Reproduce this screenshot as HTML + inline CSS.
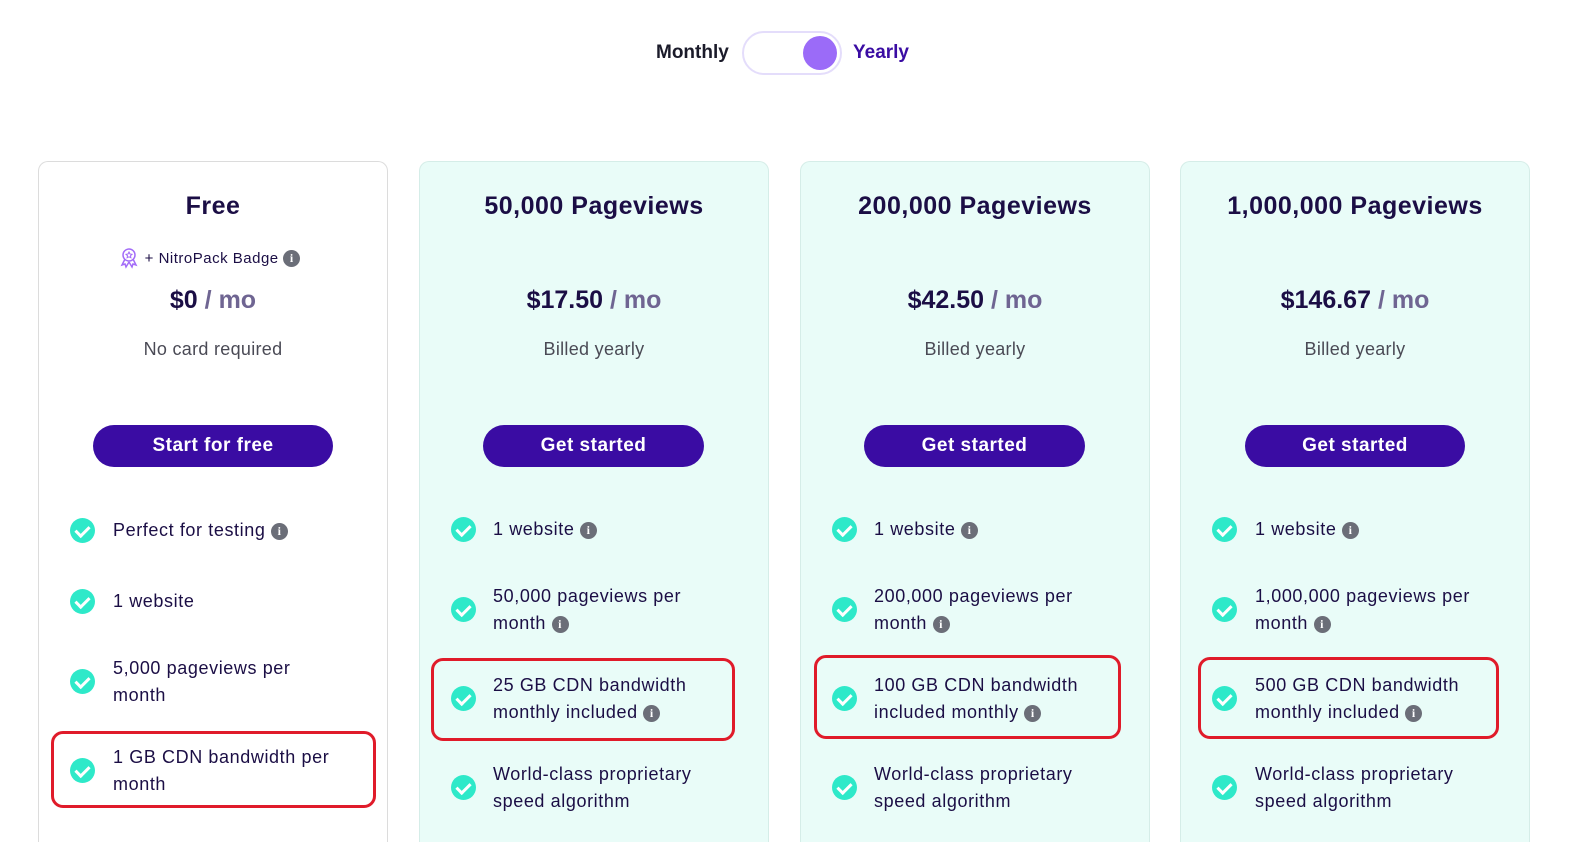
<!DOCTYPE html>
<html style="width:1587px;height:842px;overflow:hidden"><head><meta charset="utf-8"><style>
*{margin:0;padding:0;box-sizing:border-box}
body{width:1587px;height:842px;background:#fff;position:relative;overflow:hidden;font-family:"Liberation Sans",sans-serif;color:#1b0e45}
#wrap{position:absolute;left:0;top:0;width:1587px;height:842px;overflow:hidden}
.a{position:absolute;white-space:nowrap}
.card{position:absolute;top:161px;width:350px;height:681px;border:1px solid #dcdcdc;border-bottom:none;border-radius:10px 10px 0 0;background:#fff}
.paid{background:#e9fcf8;border-color:#d5ede8}
.title{position:absolute;top:192px;width:350px;text-align:center;font-size:25px;font-weight:bold;letter-spacing:0.5px}
.price{position:absolute;top:286px;width:350px;text-align:center;font-size:25px;font-weight:bold}
.price span{color:#6f6592}
.sub{position:absolute;top:339px;width:350px;text-align:center;font-size:18px;color:#4a4a55;letter-spacing:0.3px}
.btn{position:absolute;height:42px;border-radius:21px;background:#3a0ca3;color:#fff;font-size:19px;font-weight:bold;text-align:center;line-height:42px;letter-spacing:0.5px}
.chk{position:absolute;width:25px;height:25px;border-radius:50%;background:#2ee9c9}
.chk:after{content:"";position:absolute;left:8px;top:5px;width:6px;height:11px;border:solid #fff;border-width:0 3px 3px 0;transform:rotate(45deg)}
.ft{position:absolute;font-size:18px;line-height:27px;letter-spacing:0.6px;white-space:nowrap}
.i{display:inline-block;width:17px;height:17px;border-radius:50%;background:#6b6e78;color:#fff;font-size:12px;font-weight:bold;text-align:center;line-height:17px;vertical-align:1px;font-family:"Liberation Serif",serif}
.red{position:absolute;border:3px solid #e01b2a;border-radius:12px}
</style></head><body><div id="wrap">
<div class="a" style="left:656px;top:42px;font-size:19px;font-weight:bold;color:#1b1b2a">Monthly</div>
<div class="a" style="left:742px;top:31px;width:100px;height:44px;border:2px solid #e4ddfb;border-radius:22px;background:#fff"><div style="position:absolute;left:59px;top:3px;width:34px;height:34px;border-radius:50%;background:#9b6bf8"></div></div>
<div class="a" style="left:853px;top:42px;font-size:19px;font-weight:bold;color:#3a0ca3">Yearly</div>

<div class="card" style="left:38px"></div>
<div class="card paid" style="left:419px"></div>
<div class="card paid" style="left:800px"></div>
<div class="card paid" style="left:1180px"></div>

<!-- Free -->
<div class="title" style="left:38px">Free</div>
<div class="a" style="left:118px;top:247px;font-size:15px;letter-spacing:0.5px"><svg width="22" height="22" viewBox="0 0 22 22" style="vertical-align:-6px"><circle cx="11" cy="8" r="6" fill="none" stroke="#a36cf8" stroke-width="1.5"/><path d="M11 5l1 2 2 .3-1.5 1.4.4 2L11 9.8 9.1 10.7l.4-2L8 7.3l2-.3z" fill="none" stroke="#a36cf8" stroke-width="1"/><path d="M7 12l-3 6 3-1 1 3 3-5M15 12l3 6-3-1-1 3-3-5" fill="none" stroke="#a36cf8" stroke-width="1.5"/></svg> + NitroPack Badge <span class="i">i</span></div>
<div class="price" style="left:38px">$0 <span>/ mo</span></div>
<div class="sub" style="left:38px">No card required</div>
<div class="btn" style="left:93px;top:425px;width:240px">Start for free</div>
<div class="chk" style="left:70px;top:518px"></div>
<div class="ft" style="left:113px;top:517px">Perfect for testing <span class="i">i</span></div>
<div class="chk" style="left:70px;top:589px"></div>
<div class="ft" style="left:113px;top:588px">1 website</div>
<div class="chk" style="left:70px;top:669px"></div>
<div class="ft" style="left:113px;top:655px">5,000 pageviews per<br>month</div>
<div class="chk" style="left:70px;top:758px"></div>
<div class="ft" style="left:113px;top:744px">1 GB CDN bandwidth per<br>month</div>
<div class="red" style="left:51px;top:731px;width:325px;height:77px"></div>

<!-- 50k -->
<div class="title" style="left:419px">50,000 Pageviews</div>
<div class="price" style="left:419px">$17.50 <span>/ mo</span></div>
<div class="sub" style="left:419px">Billed yearly</div>
<div class="btn" style="left:483px;top:425px;width:221px">Get started</div>
<div class="chk" style="left:451px;top:517px"></div>
<div class="ft" style="left:493px;top:516px">1 website <span class="i">i</span></div>
<div class="chk" style="left:451px;top:597px"></div>
<div class="ft" style="left:493px;top:583px">50,000 pageviews per<br>month <span class="i">i</span></div>
<div class="chk" style="left:451px;top:686px"></div>
<div class="ft" style="left:493px;top:672px">25 GB CDN bandwidth<br>monthly included <span class="i">i</span></div>
<div class="chk" style="left:451px;top:775px"></div>
<div class="ft" style="left:493px;top:761px">World-class proprietary<br>speed algorithm</div>
<div class="red" style="left:431px;top:658px;width:304px;height:83px"></div>

<!-- 200k -->
<div class="title" style="left:800px">200,000 Pageviews</div>
<div class="price" style="left:800px">$42.50 <span>/ mo</span></div>
<div class="sub" style="left:800px">Billed yearly</div>
<div class="btn" style="left:864px;top:425px;width:221px">Get started</div>
<div class="chk" style="left:832px;top:517px"></div>
<div class="ft" style="left:874px;top:516px">1 website <span class="i">i</span></div>
<div class="chk" style="left:832px;top:597px"></div>
<div class="ft" style="left:874px;top:583px">200,000 pageviews per<br>month <span class="i">i</span></div>
<div class="chk" style="left:832px;top:686px"></div>
<div class="ft" style="left:874px;top:672px">100 GB CDN bandwidth<br>included monthly <span class="i">i</span></div>
<div class="chk" style="left:832px;top:775px"></div>
<div class="ft" style="left:874px;top:761px">World-class proprietary<br>speed algorithm</div>
<div class="red" style="left:814px;top:655px;width:307px;height:84px"></div>

<!-- 1M -->
<div class="title" style="left:1180px">1,000,000 Pageviews</div>
<div class="price" style="left:1180px">$146.67 <span>/ mo</span></div>
<div class="sub" style="left:1180px">Billed yearly</div>
<div class="btn" style="left:1245px;top:425px;width:220px">Get started</div>
<div class="chk" style="left:1212px;top:517px"></div>
<div class="ft" style="left:1255px;top:516px">1 website <span class="i">i</span></div>
<div class="chk" style="left:1212px;top:597px"></div>
<div class="ft" style="left:1255px;top:583px">1,000,000 pageviews per<br>month <span class="i">i</span></div>
<div class="chk" style="left:1212px;top:686px"></div>
<div class="ft" style="left:1255px;top:672px">500 GB CDN bandwidth<br>monthly included <span class="i">i</span></div>
<div class="chk" style="left:1212px;top:775px"></div>
<div class="ft" style="left:1255px;top:761px">World-class proprietary<br>speed algorithm</div>
<div class="red" style="left:1198px;top:657px;width:301px;height:82px"></div>
</div></body></html>
